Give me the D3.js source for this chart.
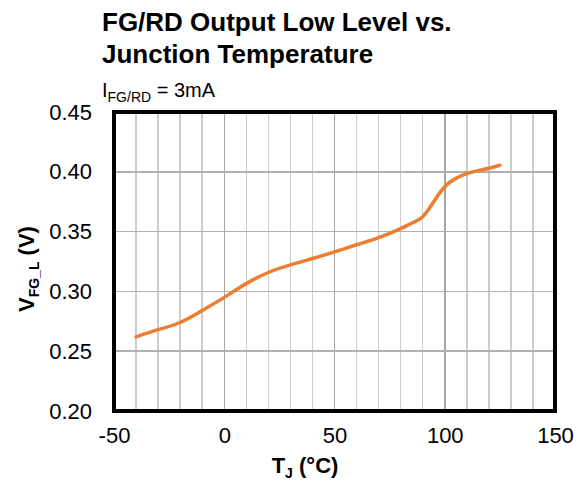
<!doctype html>
<html lang="en">
<head>
<meta charset="UTF-8">
<script src="https://d3js.org/d3.v7.min.js"></script>
<style>
body { margin: 0; background: #fff; font-family: "Liberation Sans", Arial, sans-serif; }
.grid line { shape-rendering: crispEdges; }
</style>
<title></title>
</head>
<body>
<div id="main"></div>
<script>
'use strict';

// junction temperature (degC) and output low voltage (V)
var temps = [-40, -30, -20, -10, 0, 10, 20, 30, 40, 50, 60, 70, 80, 85, 90, 95, 100, 105, 110, 115, 120, 125];
var vfgl  = [0.262, 0.268, 0.274, 0.284, 0.295, 0.3065, 0.3158, 0.3222, 0.3275, 0.333, 0.339, 0.345, 0.3525, 0.357, 0.3625, 0.375, 0.3875, 0.3945, 0.3985, 0.401, 0.403, 0.4055];
var xTicks = [-50, 0, 50, 100, 150];
var yTicks = [0.20, 0.25, 0.30, 0.35, 0.40, 0.45];

var W = 588, H = 485;
var pLeft = 114, pRight = 555, pTop = 112, pBottom = 411;

var x = d3.scaleLinear().domain([-50, 150]).range([pLeft, pRight]);
var y = d3.scaleLinear().domain([0.20, 0.45]).range([pBottom, pTop]);

var svg = d3.select("#main").append("svg")
  .attr("width", W)
  .attr("height", H);

// vertical grid every 10 degC
var grid = svg.append("g").attr("class", "grid");
grid.selectAll(".vx")
  .data(d3.range(-40, 150, 10))
  .enter().append("line")
  .attr("x1", d => x(d)).attr("x2", d => x(d))
  .attr("y1", pTop).attr("y2", pBottom)
  .attr("stroke", d => d % 50 === 0 ? "#a6a6a6" : "#cccccc")
  .attr("stroke-width", 1.5);

grid.selectAll(".hy")
  .data(yTicks.slice(1, -1))
  .enter().append("line")
  .attr("x1", pLeft).attr("x2", pRight)
  .attr("y1", d => y(d)).attr("y2", d => y(d))
  .attr("stroke", "#b0b0b0")
  .attr("stroke-width", 1.5);

var line = d3.line()
  .x((d, i) => x(temps[i]))
  .y(d => y(d))
  .curve(d3.curveNatural);

svg.append("path")
  .datum(vfgl)
  .attr("d", line)
  .attr("fill", "none")
  .attr("stroke", "#ed7d31")
  .attr("stroke-width", 3.5)
  .attr("stroke-linecap", "round");

// frame
svg.append("rect")
  .attr("x", pLeft).attr("y", pTop)
  .attr("width", pRight - pLeft).attr("height", pBottom - pTop)
  .attr("fill", "none")
  .attr("stroke", "#000")
  .attr("stroke-width", 4);

// axes (labels only)
var xAxis = svg.append("g")
  .attr("transform", "translate(0," + pBottom + ")")
  .call(d3.axisBottom(x).tickValues(xTicks).tickSize(0).tickPadding(24).tickFormat(d => String(d)));
var yAxis = svg.append("g")
  .attr("transform", "translate(" + pLeft + ",0)")
  .call(d3.axisLeft(y).tickValues(yTicks).tickSize(0).tickPadding(22).tickFormat(d3.format(".2f")));
[xAxis, yAxis].forEach(function(a) {
  a.select(".domain").remove();
  a.selectAll("text")
    .attr("fill", "#000")
    .style("font-family", '"Liberation Sans", Arial, sans-serif')
    .style("font-size", "22px");
});
xAxis.selectAll("text").attr("dy", "0.35em");

// title
var title = svg.append("text")
  .attr("x", 102)
  .style("font-size", "26px")
  .style("font-weight", "bold");
title.append("tspan").attr("x", 102).attr("y", 31).text("FG/RD Output Low Level vs.");
title.append("tspan").attr("x", 102).attr("y", 63).text("Junction Temperature");

var sub = svg.append("text")
  .attr("x", 102).attr("y", 97)
  .style("font-size", "20px");
sub.append("tspan").text("I");
sub.append("tspan").attr("dy", 5).style("font-size", "14px").text("FG/RD");
sub.append("tspan").attr("dy", -5).text(" = 3mA");

// x axis title
var xt = svg.append("text")
  .attr("x", 305).attr("y", 473)
  .attr("text-anchor", "middle")
  .style("font-size", "22px")
  .style("font-weight", "bold");
xt.append("tspan").text("T");
xt.append("tspan").attr("dy", 5).style("font-size", "14px").text("J");
xt.append("tspan").attr("dy", -5).text(" (°C)");

// y axis title
var yt = svg.append("text")
  .attr("transform", "translate(34,269) rotate(-90)")
  .attr("text-anchor", "middle")
  .style("font-size", "22px")
  .style("font-weight", "bold");
yt.append("tspan").text("V");
yt.append("tspan").attr("dy", 5).style("font-size", "14px").text("FG_L");
yt.append("tspan").attr("dy", -5).text(" (V)");
</script>
</body>
</html>
